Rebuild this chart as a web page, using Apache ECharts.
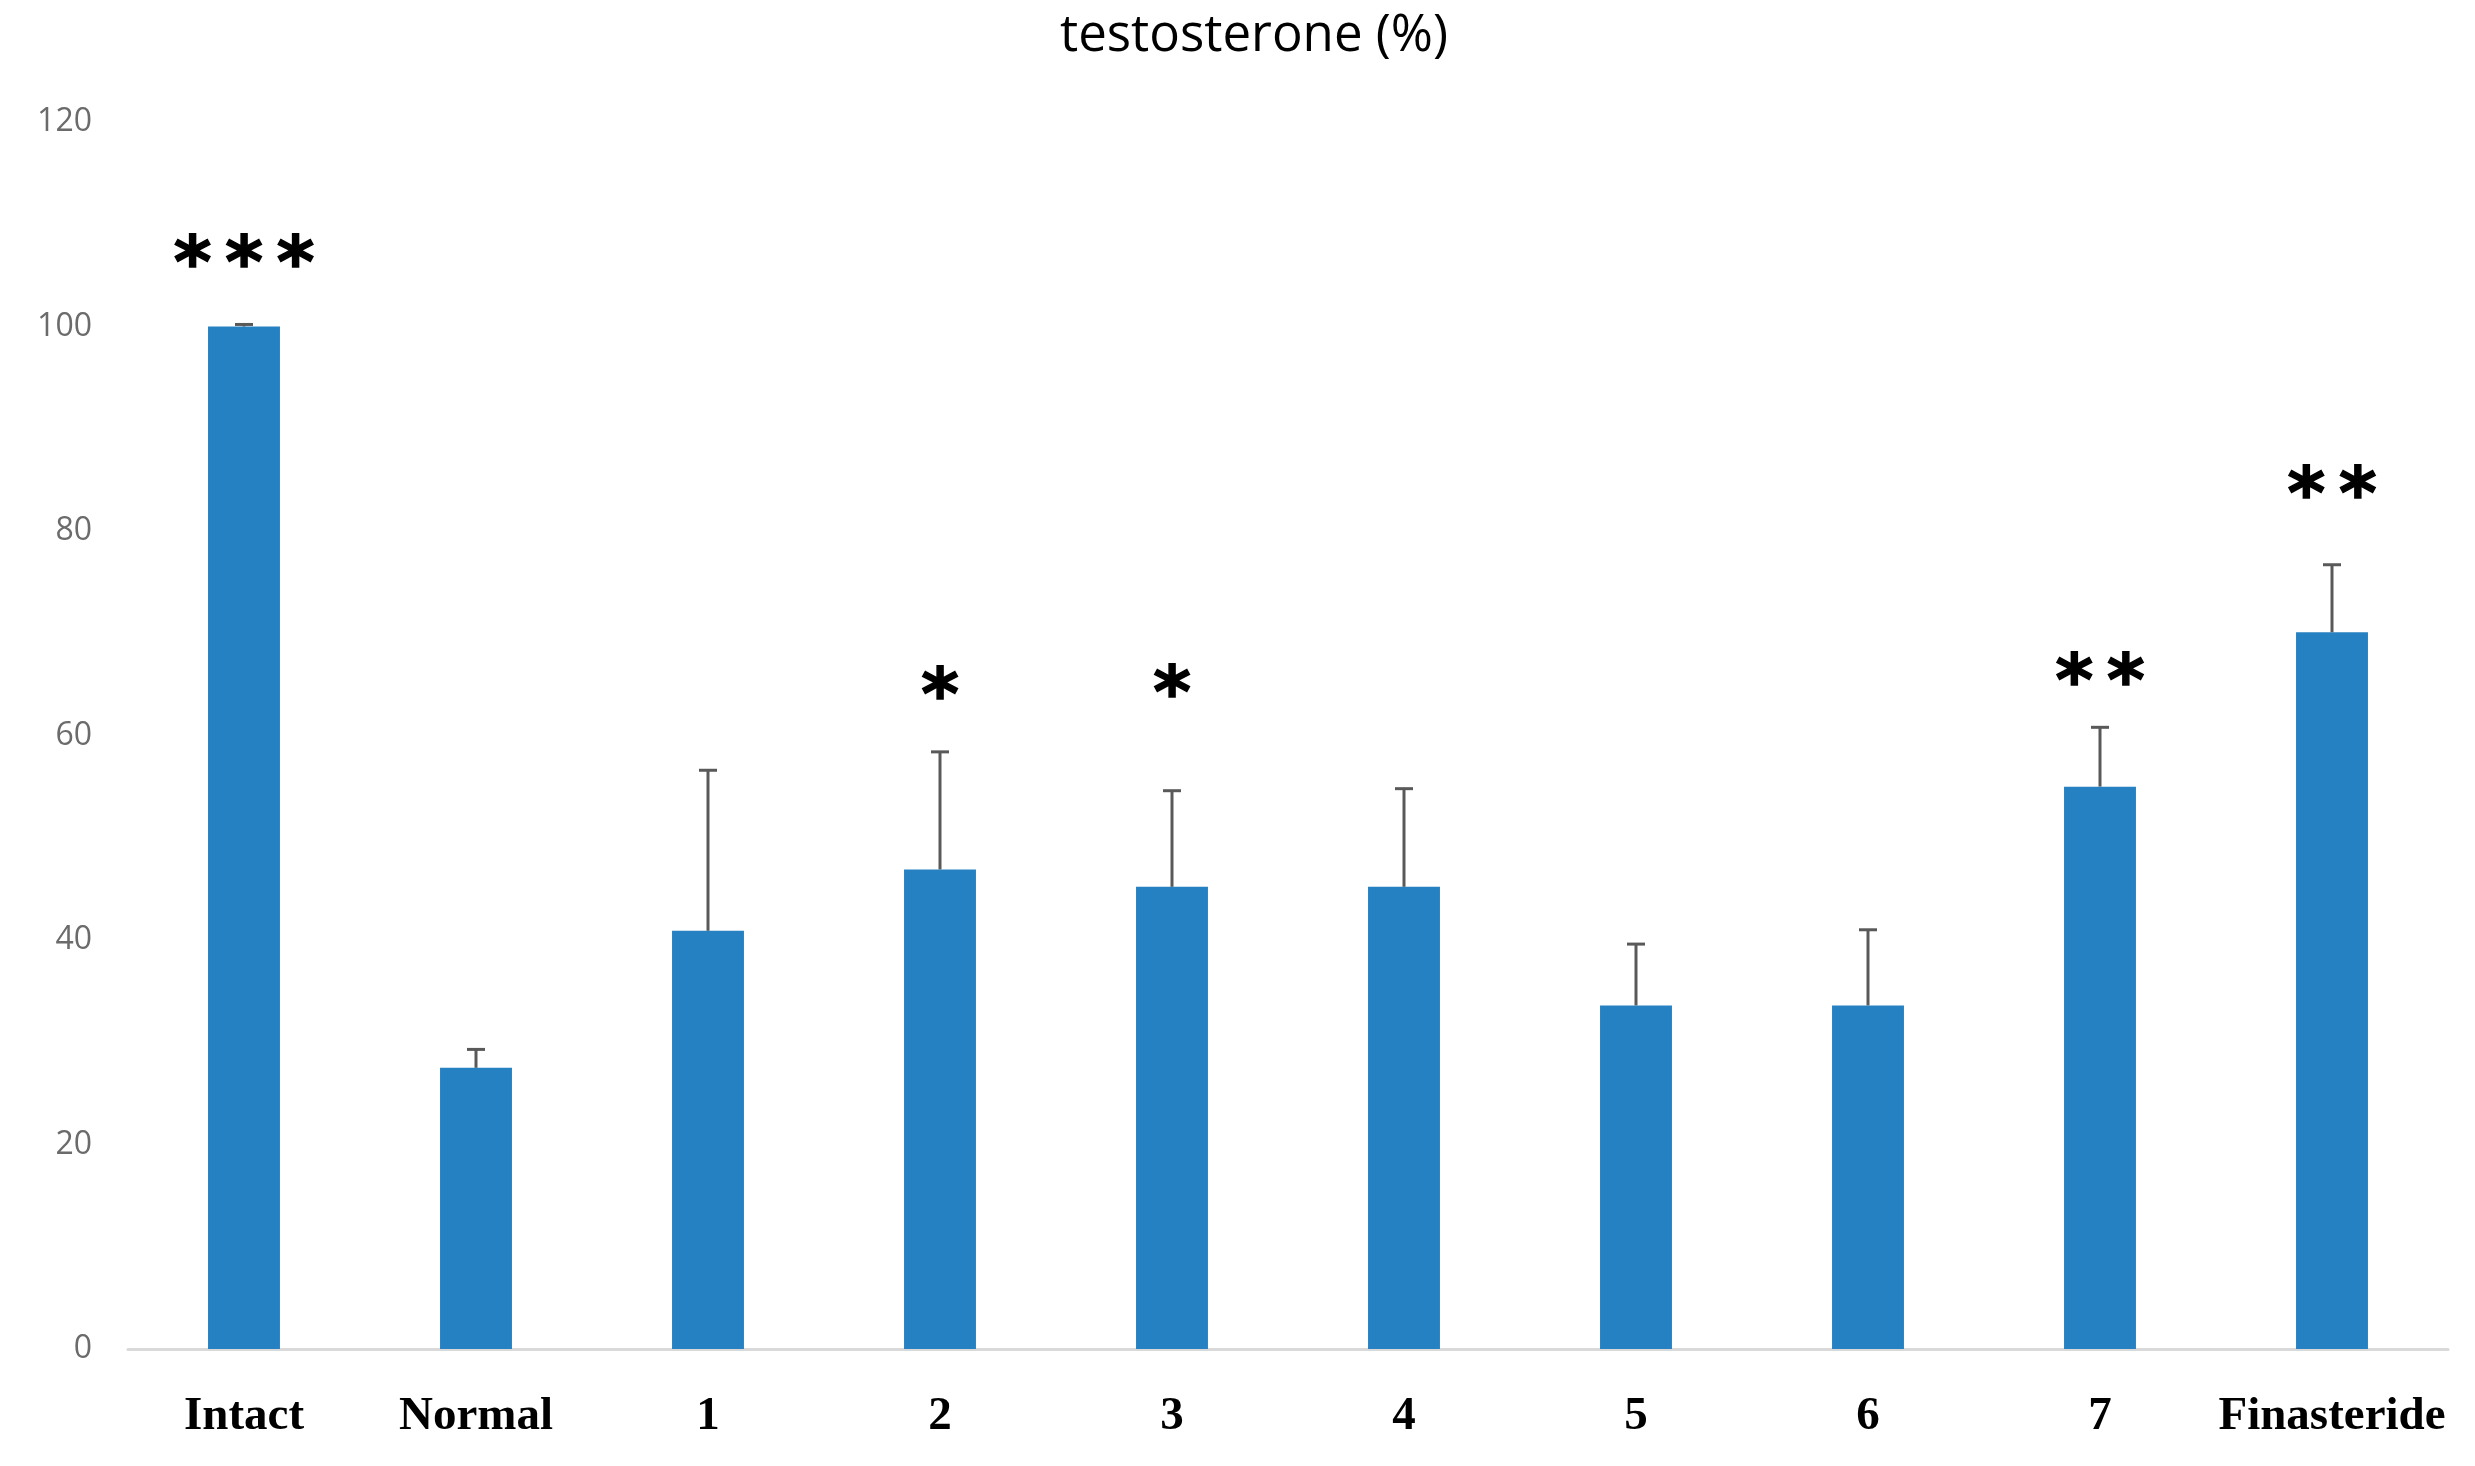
<!DOCTYPE html>
<html>
<head>
<meta charset="utf-8">
<script src="https://cdn.jsdelivr.net/npm/echarts@6/dist/echarts.min.js"></script>
<style>
html,body{margin:0;padding:0;background:#fff;}
#chart{width:2475px;height:1466px;}
</style>
</head>
<body>
<div id="chart"></div>
<script>
const categories = ['Intact', 'Normal', '1', '2', '3', '4', '5', '6', '7', 'Finasteride'];
const values = [100, 27.5, 40.9, 46.9, 45.2, 45.2, 33.6, 33.6, 55.0, 70.1];
const errors = [0.2, 1.8, 15.7, 11.5, 9.4, 9.6, 6.0, 7.4, 5.8, 6.6];
const marks = ['***', '', '', '*', '*', '', '', '', '**', '**'];
const markY = [107.3, null, null, 65.0, 65.2, null, null, null, 66.4, 84.7];
const yMin = 0, yMax = 120, yStep = 20;
const titleText = 'testosterone (%)';

const errData = categories.map((c, i) => [i, values[i], values[i] + errors[i]]);
const starData = [];
marks.forEach((m, i) => { if (m) starData.push([i, markY[i], m.length]); });

const chart = echarts.init(document.getElementById('chart'));
chart.setOption({
  animation: false,
  backgroundColor: '#ffffff',
  title: {
    text: titleText,
    left: 1060,
    top: 11,
    padding: 0,
    textStyle: { fontFamily: 'Open Sans', fontSize: 51, fontWeight: 'normal', color: '#000' }
  },
  grid: { left: 128, right: 27, top: 122, bottom: 117, containLabel: false },
  xAxis: {
    type: 'category',
    data: categories,
    axisLine: { show: true, lineStyle: { color: '#d9d9d9', width: 3 } },
    axisTick: { show: false },
    axisLabel: {
      interval: 0,
      margin: 44,
      fontFamily: 'Liberation Serif',
      fontWeight: 'bold',
      fontSize: 47,
      color: '#000'
    }
  },
  yAxis: {
    type: 'value',
    min: yMin,
    max: yMax,
    interval: yStep,
    axisLine: { show: false },
    axisTick: { show: false },
    splitLine: { show: false },
    axisLabel: {
      margin: 36,
      fontFamily: 'Open Sans',
      fontSize: 32,
      color: '#6b6b6b'
    }
  },
  series: [
    {
      type: 'bar',
      data: values,
      barWidth: '31%',
      itemStyle: { color: '#2581c1' },
      silent: true
    },
    {
      type: 'custom',
      data: errData,
      silent: true,
      z: 3,
      renderItem: function (params, api) {
        const x = api.value(0);
        const p0 = api.coord([x, api.value(1)]);
        const p1 = api.coord([x, api.value(2)]);
        const half = 9;
        const st = { stroke: '#595959', lineWidth: 3 };
        return {
          type: 'group',
          children: [
            { type: 'line', shape: { x1: p0[0], y1: p0[1], x2: p1[0], y2: p1[1] }, style: st },
            { type: 'line', shape: { x1: p1[0] - half, y1: p1[1], x2: p1[0] + half, y2: p1[1] }, style: st }
          ]
        };
      }
    },
    {
      type: 'custom',
      data: starData,
      silent: true,
      z: 4,
      renderItem: function (params, api) {
        const p = api.coord([api.value(0), api.value(1)]);
        const n = api.value(2);
        const gap = 51.5;
        const children = [];
        for (let k = 0; k < n; k++) {
          const cx = p[0] + (k - (n - 1) / 2) * gap;
          children.push({
            type: 'text',
            style: {
              text: '*',
              x: cx,
              y: p[1] + 16,
              textAlign: 'center',
              textVerticalAlign: 'middle',
              font: 'bold 72px "DejaVu Sans"',
              fill: '#000',
              stroke: '#000',
              lineWidth: 1.5
            }
          });
        }
        return { type: 'group', children: children };
      }
    }
  ]
});
</script>
</body>
</html>
